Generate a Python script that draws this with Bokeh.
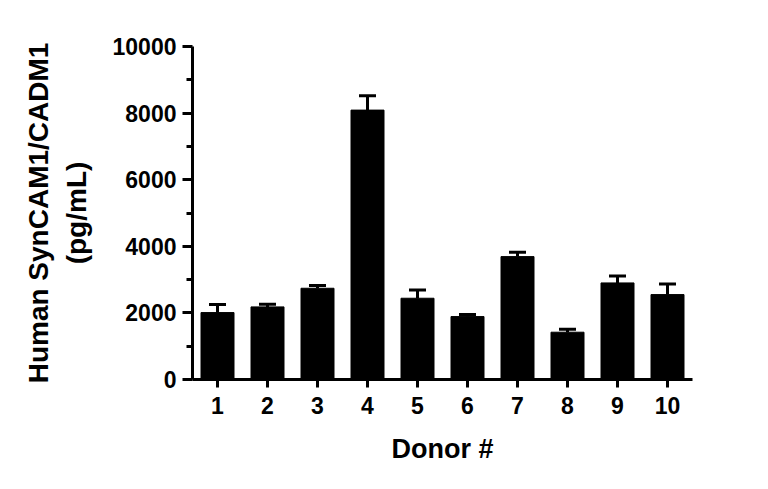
from bokeh.plotting import figure
from bokeh.models import ColumnDataSource, Range1d, FixedTicker, Whisker, TeeHead
from bokeh.embed import file_html
from bokeh.resources import INLINE

# ---- data ----
donors = [1, 2, 3, 4, 5, 6, 7, 8, 9, 10]
donor_labels = ["1", "2", "3", "4", "5", "6", "7", "8", "9", "10"]
means = [2010, 2180, 2740, 8090, 2440, 1890, 3690, 1420, 2900, 2550]
errors = [240, 80, 80, 430, 250, 60, 130, 90, 210, 320]
y_ticks = [0, 2000, 4000, 6000, 8000, 10000]
y_minor = [1000, 3000, 5000, 7000, 9000]

FONT = "Liberation Sans"

src = ColumnDataSource(dict(
    x=donors,
    top=means,
    upper=[m + e for m, e in zip(means, errors)],
))

p = figure(width=760, height=481, output_backend="svg", toolbar_location=None,
           x_range=Range1d(0.5, 10.5), y_range=Range1d(0, 10000),
           min_border_left=192, min_border_right=68, min_border_top=46,
           min_border_bottom=102)

p.vbar(x="x", top="top", width=0.66, source=src, fill_color="black",
       line_color="black", line_width=1)

wh = Whisker(source=src, base="x", lower="top", upper="upper", dimension="height",
             lower_head=None, upper_head=TeeHead(size=17, line_width=3, line_color="black"),
             line_width=3, line_color="black")
p.add_layout(wh)

p.outline_line_color = None
p.xgrid.visible = False
p.ygrid.visible = False
p.background_fill_color = "white"
p.border_fill_color = "white"

# y axis
ya = p.yaxis[0]
ya.ticker = FixedTicker(ticks=y_ticks, minor_ticks=y_minor)
ya.major_label_overrides = {t: str(t) for t in y_ticks}
ya.axis_line_width = 3
ya.major_tick_line_width = 3
ya.minor_tick_line_width = 3
ya.major_tick_out = 10
ya.major_tick_in = 0
ya.minor_tick_out = 6
ya.minor_tick_in = 0
ya.major_label_text_font = FONT
ya.major_label_text_font_style = "bold"
ya.major_label_text_font_size = "23px"
ya.major_label_text_color = "black"
ya.major_label_standoff = 6
ya.axis_label = "Human SynCAM1/CADM1\n(pg/mL)"
ya.axis_label_text_font = FONT
ya.axis_label_text_font_style = "bold"
ya.axis_label_text_font_size = "28px"
ya.axis_label_text_color = "black"
ya.axis_label_standoff = 18

# x axis
xa = p.xaxis[0]
xa.ticker = FixedTicker(ticks=donors)
xa.major_label_overrides = {d: l for d, l in zip(donors, donor_labels)}
xa.axis_line_width = 3
xa.major_tick_line_width = 3
xa.major_tick_out = 8
xa.major_tick_in = 0
xa.minor_tick_line_color = None
xa.major_label_text_font = FONT
xa.major_label_text_font_style = "bold"
xa.major_label_text_font_size = "23px"
xa.major_label_text_color = "black"
xa.major_label_standoff = 9
xa.axis_label = "Donor #"
xa.axis_label_text_font = FONT
xa.axis_label_text_font_style = "bold"
xa.axis_label_text_font_size = "27px"
xa.axis_label_text_color = "black"
xa.axis_label_standoff = 17

open("out.html", "w").write(file_html(p, INLINE))
